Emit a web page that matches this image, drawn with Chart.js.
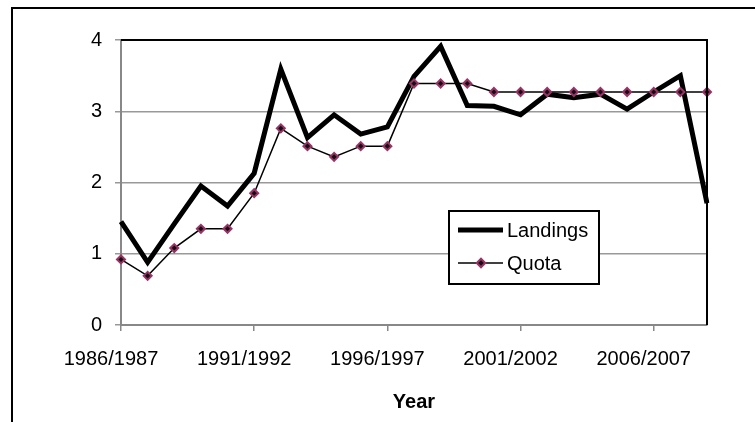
<!DOCTYPE html>
<html>
<head>
<meta charset="utf-8">
<script src="https://cdn.jsdelivr.net/npm/chart.js@4/dist/chart.umd.min.js"></script>
<style>
  html, body { margin: 0; padding: 0; background: #fff; }
  #wrap { width: 755px; height: 422px; position: relative; }
</style>
</head>
<body>
<div id="wrap"><canvas id="c" width="755" height="422"></canvas></div>
<script>
const years = ["1986/1987","1987/1988","1988/1989","1989/1990","1990/1991","1991/1992","1992/1993","1993/1994","1994/1995","1995/1996","1996/1997","1997/1998","1998/1999","1999/2000","2000/2001","2001/2002","2002/2003","2003/2004","2004/2005","2005/2006","2006/2007","2007/2008","2008/2009"];
const landings = [1.45,0.88,1.42,1.95,1.67,2.13,3.59,2.63,2.95,2.68,2.78,3.49,3.91,3.08,3.07,2.95,3.24,3.19,3.24,3.03,3.27,3.50,1.71];
const quota = [0.92,0.69,1.08,1.35,1.35,1.85,2.76,2.51,2.36,2.51,2.51,3.39,3.39,3.39,3.27,3.27,3.27,3.27,3.27,3.27,3.27,3.27,3.27];
const yTicks = [0,1,2,3,4];
const xTitle = "Year";
const labelEvery = 5;

const FONT = "'Liberation Sans', Arial, sans-serif";

const framePlugin = {
  id: 'frame',
  beforeDraw(chart) {
    const ctx = chart.ctx;
    ctx.save();
    ctx.fillStyle = '#fff';
    ctx.fillRect(0, 0, chart.width, chart.height);
    ctx.fillStyle = '#000';
    ctx.fillRect(11, 7, 2, chart.height - 7);
    ctx.fillRect(11, 7, chart.width - 11, 2);
    ctx.restore();
  },
  afterDatasetsDraw(chart) {
    const ctx = chart.ctx;
    const a = chart.chartArea;
    ctx.save();
    ctx.strokeStyle = '#000';
    ctx.lineWidth = 2;
    ctx.beginPath();
    ctx.moveTo(a.left, a.top);
    ctx.lineTo(a.right, a.top);
    ctx.lineTo(a.right, a.bottom);
    ctx.stroke();
    ctx.restore();
  }
};

const legendPlugin = {
  id: 'boxLegend',
  afterDraw(chart) {
    const ctx = chart.ctx;
    const a = chart.chartArea;
    const x = a.left + 328, y = 211, w = 150, h = 73;
    ctx.save();
    ctx.fillStyle = '#fff';
    ctx.fillRect(x, y, w, h);
    ctx.strokeStyle = '#000';
    ctx.lineWidth = 2;
    ctx.strokeRect(x, y, w, h);
    const ds = chart.data.datasets;
    const rows = [y + 19, y + 52];
    ds.forEach((d, i) => {
      const ry = rows[i];
      ctx.strokeStyle = d.borderColor;
      ctx.lineWidth = d.borderWidth;
      ctx.beginPath();
      ctx.moveTo(x + 9, ry);
      ctx.lineTo(x + 54, ry);
      ctx.stroke();
      if (d.pointRadius > 0) {
        ctx.save();
        ctx.translate(x + 32, ry);
        ctx.rotate(Math.PI / 4);
        const r = d.pointRadius * 0.75;
        ctx.fillStyle = d.pointBackgroundColor;
        ctx.strokeStyle = d.pointBorderColor;
        ctx.lineWidth = d.pointBorderWidth;
        ctx.beginPath();
        ctx.rect(-r, -r, 2 * r, 2 * r);
        ctx.fill();
        ctx.stroke();
        ctx.restore();
      }
      ctx.fillStyle = '#000';
      ctx.font = '20px ' + FONT;
      ctx.textBaseline = 'middle';
      ctx.textAlign = 'left';
      ctx.fillText(d.label, x + 58, ry + 1);
    });
    ctx.restore();
  }
};

new Chart(document.getElementById('c'), {
  type: 'line',
  data: {
    labels: years,
    datasets: [
      {
        label: 'Landings',
        data: landings,
        borderColor: '#000',
        borderWidth: 5,
        pointRadius: 0,
        tension: 0,
        borderJoinStyle: 'miter',
        order: 2
      },
      {
        label: 'Quota',
        data: quota,
        borderColor: '#000',
        borderWidth: 1.5,
        pointStyle: 'rectRot',
        pointRadius: 4,
        pointBackgroundColor: '#111',
        pointBorderColor: '#993366',
        pointBorderWidth: 2,
        tension: 0,
        order: 1
      }
    ]
  },
  options: {
    responsive: false,
    animation: false,
    devicePixelRatio: 1,
    layout: { padding: { top: 40, right: 48, left: 0, bottom: 0 } },
    plugins: {
      legend: { display: false },
      tooltip: { enabled: false }
    },
    scales: {
      x: {
        type: 'category',
        offset: false,
        afterFit(s) { s.height = 97; },
        grid: {
          drawOnChartArea: false,
          drawTicks: true,
          tickLength: 6,
          tickColor: (c) => (c.index % labelEvery === 0 ? '#888' : 'rgba(0,0,0,0)'),
          lineWidth: 1.5
        },
        border: { display: true, color: '#888', width: 2 },
        ticks: {
          autoSkip: false,
          maxRotation: 0,
          minRotation: 0,
          padding: 16,
          labelOffset: -10,
          color: '#000',
          font: { family: FONT, size: 20 },
          callback(v, i) { return i % labelEvery === 0 ? years[i] : ''; }
        },
        title: {
          display: true,
          text: xTitle,
          color: '#000',
          font: { family: FONT, size: 20, weight: 'bold' },
          padding: { top: 0, bottom: 8 }
        }
      },
      y: {
        min: 0,
        max: 4,
        afterFit(s) { s.width = 121; },
        afterBuildTicks(s) { s.ticks = yTicks.map(v => ({ value: v })); },
        grid: {
          color: '#999',
          lineWidth: 1.5,
          tickLength: 6,
          tickColor: '#999'
        },
        border: { display: true, color: '#888', width: 2 },
        ticks: {
          padding: 13,
          color: '#000',
          font: { family: FONT, size: 20 }
        }
      }
    }
  },
  plugins: [framePlugin, legendPlugin]
});
</script>
</body>
</html>
